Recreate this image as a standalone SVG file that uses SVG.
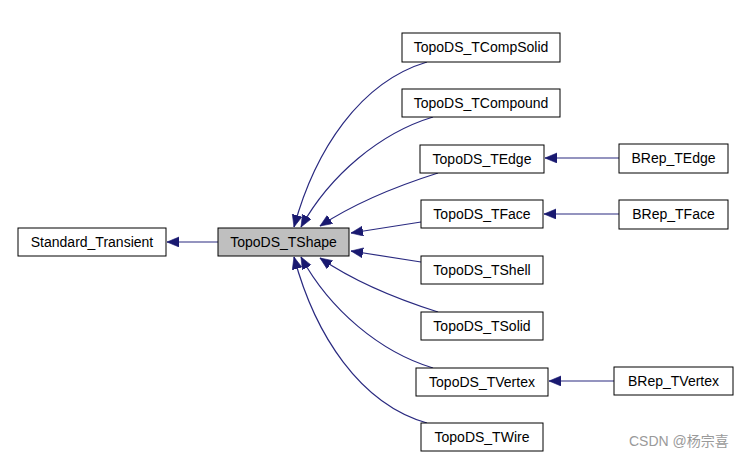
<svg xmlns="http://www.w3.org/2000/svg" width="744" height="457" viewBox="0 0 744 457">
<style>
.box{fill:#ffffff;stroke:#000000;stroke-width:1}
.sel{fill:#bfbfbf;stroke:#000000;stroke-width:1}
.lbl{font-family:"Liberation Sans",Arial,sans-serif;font-size:14px;fill:#000000;text-anchor:middle}
.edge{fill:none;stroke:#2a2a80;stroke-width:1.2;marker-end:url(#arr)}
.wm{font-family:"Liberation Sans","Noto Sans CJK SC",sans-serif;font-size:14px;fill:#9a9a9a}
</style>
<defs>
<marker id="arr" markerUnits="userSpaceOnUse" markerWidth="14" markerHeight="11" refX="12" refY="5" orient="auto">
<path d="M0,0 L12,5 L0,10 z" fill="#191970" stroke="#191970" stroke-width="0.6"/>
</marker>
</defs>
<rect width="744" height="457" fill="#ffffff"/>
<g id="connectors">
<path class="edge" d="M218,242 L167,242"/>
<path class="edge" d="M427,62 C360,82 315,150 294,227"/>
<path class="edge" d="M433,117 C380,133 330,175 301,227"/>
<path class="edge" d="M438,173 C400,185 355,203 320,226"/>
<path class="edge" d="M421,222 L351,233"/>
<path class="edge" d="M421,262 L351,251"/>
<path class="edge" d="M438,312 C400,300 355,282 320,258"/>
<path class="edge" d="M433,368 C380,352 330,310 301,257"/>
<path class="edge" d="M427,423 C360,404 315,335 294,257"/>
<path class="edge" d="M619,158 L545,158"/>
<path class="edge" d="M619,214 L544,214"/>
<path class="edge" d="M614,381 L549,381"/>
</g>
<g id="Standard_Transient"><rect class="box" x="18" y="228" width="148" height="28"/><text class="lbl" x="92" y="247">Standard_Transient</text></g>
<g id="TopoDS_TShape"><rect class="sel" x="218" y="228" width="131" height="28"/><text class="lbl" x="283.5" y="247">TopoDS_TShape</text></g>
<g id="TopoDS_TCompSolid"><rect class="box" x="402" y="33" width="158" height="29"/><text class="lbl" x="481" y="52">TopoDS_TCompSolid</text></g>
<g id="TopoDS_TCompound"><rect class="box" x="402" y="89" width="158" height="28"/><text class="lbl" x="481" y="108">TopoDS_TCompound</text></g>
<g id="TopoDS_TEdge"><rect class="box" x="420" y="145" width="124" height="28"/><text class="lbl" x="482" y="164">TopoDS_TEdge</text></g>
<g id="TopoDS_TFace"><rect class="box" x="421" y="200" width="122" height="28"/><text class="lbl" x="482" y="219">TopoDS_TFace</text></g>
<g id="TopoDS_TShell"><rect class="box" x="421" y="256" width="122" height="28"/><text class="lbl" x="482" y="275">TopoDS_TShell</text></g>
<g id="TopoDS_TSolid"><rect class="box" x="421" y="312" width="122" height="28"/><text class="lbl" x="482" y="331">TopoDS_TSolid</text></g>
<g id="TopoDS_TVertex"><rect class="box" x="416" y="368" width="132" height="28"/><text class="lbl" x="482" y="387">TopoDS_TVertex</text></g>
<g id="TopoDS_TWire"><rect class="box" x="421" y="423" width="122" height="28"/><text class="lbl" x="482" y="442">TopoDS_TWire</text></g>
<g id="BRep_TEdge"><rect class="box" x="619" y="144" width="109" height="29"/><text class="lbl" x="673.5" y="163">BRep_TEdge</text></g>
<g id="BRep_TFace"><rect class="box" x="619" y="200" width="109" height="29"/><text class="lbl" x="673.5" y="219">BRep_TFace</text></g>
<g id="BRep_TVertex"><rect class="box" x="614" y="367" width="119" height="28"/><text class="lbl" x="673.5" y="386">BRep_TVertex</text></g>
<text class="wm" x="629" y="446">CSDN @杨宗喜</text>
</svg>
